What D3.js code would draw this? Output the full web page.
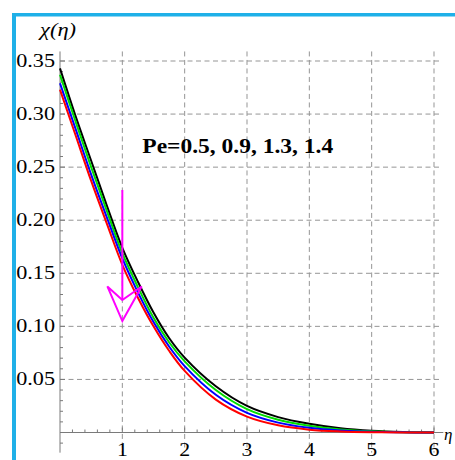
<!DOCTYPE html>
<html>
<head>
<meta charset="utf-8">
<script src="https://cdn.jsdelivr.net/npm/d3@7"></script>
<style>
  body { margin: 0; background: #fff; }
  svg { display: block; }
</style>
</head>
<body>
<script>

// eta grid and chi(eta) for Pe = 0.5, 0.9, 1.3, 1.4
var eta = [0, 0.25, 0.5, 0.75, 1, 1.25, 1.5, 1.75, 2, 2.5, 3, 3.5, 4, 4.5, 5, 5.5, 6];
var pe05 = [0.343, 0.298, 0.256, 0.214, 0.174, 0.142, 0.113, 0.089, 0.0705, 0.0435, 0.0250, 0.0145, 0.0082, 0.0040, 0.0016, 0.0004, 0];
var pe09 = [0.337, 0.293, 0.250, 0.209, 0.169, 0.137, 0.108, 0.085, 0.067, 0.040, 0.0220, 0.0120, 0.0063, 0.0029, 0.0011, 0.0003, 0];
var pe13 = [0.329, 0.286, 0.243, 0.203, 0.164, 0.132, 0.104, 0.081, 0.0625, 0.0355, 0.0185, 0.0093, 0.0044, 0.0018, 0.0006, 0.0002, 0];
var pe14 = [0.323, 0.280, 0.237, 0.197, 0.158, 0.127, 0.100, 0.077, 0.058, 0.031, 0.0150, 0.0068, 0.0027, 0.0010, 0.0003, 0.0001, 0];
var seriesColors = ["#000000", "#00dd00", "#0000ff", "#ff0000"];

var xTicks = [1, 2, 3, 4, 5, 6];
var yTicks = [0.05, 0.10, 0.15, 0.20, 0.25, 0.30, 0.35];
var label = "Pe=0.5, 0.9, 1.3, 1.4";

var w = 455;
var h = 460;

var svg = d3.select("body").append("svg")
  .attr("width", w)
  .attr("height", h);

svg.append("rect")
  .attr("width", w)
  .attr("height", h)
  .attr("fill", "#fff");

var x = d3.scaleLinear().domain([0, 6]).range([60, 434]);
var y = d3.scaleLinear().domain([0, 0.35]).range([432.5, 61]);

var grey = "#959595";
var serif = "Liberation Serif, Times New Roman, serif";

// dashed grid
svg.selectAll("line.vgrid")
  .data(xTicks)
  .enter()
  .append("line")
  .attr("class", "vgrid")
  .attr("x1", function(d) { return x(d); })
  .attr("x2", function(d) { return x(d); })
  .attr("y1", y(0.359))
  .attr("y2", y(-0.019))
  .attr("stroke", grey)
  .attr("stroke-width", 1)
  .attr("stroke-dasharray", "5,3.5");

svg.selectAll("line.hgrid")
  .data(yTicks)
  .enter()
  .append("line")
  .attr("class", "hgrid")
  .attr("x1", x(0))
  .attr("x2", x(6.1))
  .attr("y1", function(d) { return y(d); })
  .attr("y2", function(d) { return y(d); })
  .attr("stroke", grey)
  .attr("stroke-width", 1)
  .attr("stroke-dasharray", "5,3.5");

// axes lines + ticks
var axisColor = "#7a7a7a";

svg.append("line")
  .attr("x1", x(0)).attr("x2", x(0))
  .attr("y1", y(0.359)).attr("y2", y(-0.019))
  .attr("stroke", axisColor);

svg.append("line")
  .attr("x1", x(0)).attr("x2", x(6.15))
  .attr("y1", y(0)).attr("y2", y(0))
  .attr("stroke", axisColor);

var yMinor = d3.range(-1, 36).map(function(i) { return i / 100; });
svg.selectAll("line.ytick")
  .data(yMinor)
  .enter()
  .append("line")
  .attr("class", "ytick")
  .attr("x1", x(0))
  .attr("x2", function(d, i) { return x(0) + ((i - 1) % 5 == 0 ? 5 : 3); })
  .attr("y1", function(d) { return y(d); })
  .attr("y2", function(d) { return y(d); })
  .attr("stroke", axisColor);

var xMinor = d3.range(1, 31).map(function(i) { return i / 5; });
svg.selectAll("line.xtick")
  .data(xMinor)
  .enter()
  .append("line")
  .attr("class", "xtick")
  .attr("x1", function(d) { return x(d); })
  .attr("x2", function(d) { return x(d); })
  .attr("y1", y(0))
  .attr("y2", function(d, i) { return y(0) - ((i + 1) % 5 == 0 ? 5 : 3); })
  .attr("stroke", axisColor);

// tick labels
svg.selectAll("text.ylab")
  .data(yTicks)
  .enter()
  .append("text")
  .attr("class", "ylab")
  .attr("transform", function(d) { return "translate(55," + (y(d) + 6) + ") scale(1.2,1)"; })
  .attr("text-anchor", "end")
  .attr("font-family", serif)
  .attr("font-size", 18.5)
  .text(function(d) { return d.toFixed(2); });

svg.selectAll("text.xlab")
  .data(xTicks)
  .enter()
  .append("text")
  .attr("class", "xlab")
  .attr("transform", function(d) { return "translate(" + x(d) + ",456) scale(1.15,1)"; })
  .attr("text-anchor", "middle")
  .attr("font-family", serif)
  .attr("font-size", 19)
  .text(function(d) { return d; });

svg.append("text")
  .attr("transform", "translate(40,36) scale(1.25,1)")
  .attr("font-family", serif)
  .attr("font-style", "italic")
  .attr("font-size", 18)
  .text("\u03c7(\u03b7)");

svg.append("text")
  .attr("x", 444)
  .attr("y", 440)
  .attr("font-family", serif)
  .attr("font-style", "italic")
  .attr("font-size", 17)
  .text("\u03b7");

// curves
var series = [pe05, pe09, pe13, pe14];
var line = d3.line()
  .x(function(d, i) { return x(eta[i]); })
  .y(function(d) { return y(d); })
  .curve(d3.curveCatmullRom.alpha(0.5));

svg.selectAll("path.curve")
  .data(series)
  .enter()
  .append("path")
  .attr("class", "curve")
  .attr("d", line)
  .attr("fill", "none")
  .attr("stroke", function(d, i) { return seriesColors[i]; })
  .attr("stroke-width", 2);

// arrow showing increasing Pe
var arrowShaft = [[1, 0.2285], [1, 0.1248]];
var arrowHead = [[0.76, 0.1376], [1, 0.105], [1.31, 0.1376], [1, 0.1248]];

svg.append("line")
  .attr("x1", x(arrowShaft[0][0])).attr("y1", y(arrowShaft[0][1]))
  .attr("x2", x(arrowShaft[1][0])).attr("y2", y(arrowShaft[1][1]))
  .attr("stroke", "#ff00ff")
  .attr("stroke-width", 2);

svg.append("path")
  .attr("d", "M" + arrowHead.map(function(p) { return x(p[0]) + "," + y(p[1]); }).join("L") + "Z")
  .attr("fill", "none")
  .attr("stroke", "#ff00ff")
  .attr("stroke-width", 2)
  .attr("stroke-linejoin", "miter");

svg.append("text")
  .attr("transform", "translate(" + x(1.32) + "," + y(0.263) + ") scale(1.12,1)")
  .attr("font-family", serif)
  .attr("font-weight", "bold")
  .attr("font-size", 21)
  .text(label);

// blue frame (left and top)
svg.append("rect")
  .attr("x", 12).attr("y", 13)
  .attr("width", 4).attr("height", h - 13)
  .attr("fill", "#1fb0e8");
svg.append("rect")
  .attr("x", 12).attr("y", 13)
  .attr("width", w - 12).attr("height", 3.5)
  .attr("fill", "#1fb0e8");

</script>
</body>
</html>
